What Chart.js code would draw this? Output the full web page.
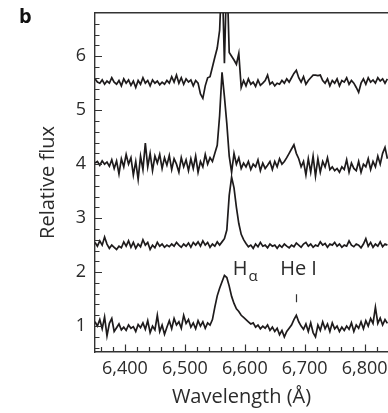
<!DOCTYPE html>
<html>
<head>
<meta charset="utf-8">
<script src="https://cdn.jsdelivr.net/npm/chart.js@4.4.0/dist/chart.umd.min.js"></script>
<style>
  html, body { margin: 0; padding: 0; background: #fff; }
</style>
</head>
<body>
<canvas id="grafico" width="388" height="413"></canvas>
<script>
// Longitudes de onda (Å)
const longitudes = [
  6350, 6354, 6358, 6362, 6366, 6370, 6374, 6378, 6382, 6386,
  6390, 6394, 6398, 6402, 6406, 6410, 6414, 6418, 6422, 6426,
  6430, 6434, 6438, 6442, 6446, 6450, 6454, 6458, 6462, 6466,
  6470, 6474, 6478, 6482, 6486, 6490, 6494, 6498, 6502, 6506,
  6510, 6514, 6518, 6522, 6526, 6530, 6534, 6538, 6542, 6546,
  6550, 6554, 6558, 6562, 6566, 6570, 6574, 6578, 6582, 6586,
  6590, 6594, 6598, 6602, 6606, 6610, 6614, 6618, 6622, 6626,
  6630, 6634, 6638, 6642, 6646, 6650, 6654, 6658, 6662, 6666,
  6670, 6674, 6678, 6682, 6686, 6690, 6694, 6698, 6702, 6706,
  6710, 6714, 6718, 6722, 6726, 6730, 6734, 6738, 6742, 6746,
  6750, 6754, 6758, 6762, 6766, 6770, 6774, 6778, 6782, 6786,
  6790, 6794, 6798, 6802, 6806, 6810, 6814, 6818, 6822, 6826,
  6830, 6834, 6838
];

// Espectro inferior
const flujoA = [
  1.08, 1.00, 1.12, 0.95, 1.17, 0.82, 1.05, 1.14, 0.90, 0.97,
  1.04, 0.93, 0.98, 0.92, 1.02, 0.96, 0.99, 0.90, 1.03, 0.97,
  1.06, 0.94, 1.10, 0.88, 1.00, 0.93, 1.20, 0.90, 1.02, 0.85,
  0.98, 1.10, 0.95, 1.14, 1.02, 1.08, 0.96, 1.20, 1.05, 1.12,
  0.98, 1.06, 0.95, 1.10, 1.00, 1.08, 0.96, 1.06, 1.02, 1.12,
  1.35, 1.56, 1.70, 1.82, 1.94, 1.90, 1.74, 1.55, 1.42, 1.32,
  1.27, 1.20, 1.16, 1.12, 1.08, 1.04, 1.06, 0.98, 1.02, 0.95,
  1.00, 0.96, 1.02, 0.92, 0.98, 0.90, 0.96, 0.84, 0.92, 0.80,
  0.90, 0.96, 1.02, 1.12, 1.20, 1.08, 1.00, 0.94, 1.04, 0.90,
  1.06, 0.88, 0.80, 1.02, 0.92, 1.08, 0.95, 1.04, 0.90, 1.06,
  0.95, 1.00, 0.90, 0.98, 0.92, 1.00, 0.94, 1.06, 0.90, 1.02,
  0.96, 1.08, 0.95, 1.10, 1.00, 1.14, 1.05, 1.35, 1.05, 1.15,
  1.02, 1.12, 1.05
];

// Segundo espectro
const flujoB = [
  2.55, 2.48, 2.58, 2.50, 2.65, 2.52, 2.44, 2.50, 2.46, 2.42,
  2.48, 2.45, 2.56, 2.48, 2.58, 2.46, 2.55, 2.44, 2.52, 2.47,
  2.60, 2.50, 2.55, 2.42, 2.50, 2.45, 2.55, 2.48, 2.52, 2.46,
  2.50, 2.47, 2.52, 2.48, 2.55, 2.50, 2.46, 2.52, 2.48, 2.54,
  2.46, 2.55, 2.50, 2.56, 2.48, 2.58, 2.50, 2.55, 2.46, 2.52,
  2.48, 2.56, 2.50, 2.56, 2.62, 2.78, 3.42, 3.76, 3.56, 3.20,
  2.90, 2.70, 2.60, 2.53, 2.47, 2.50, 2.44, 2.52, 2.47, 2.55,
  2.48, 2.50, 2.45, 2.52, 2.48, 2.50, 2.44, 2.50, 2.46, 2.52,
  2.48, 2.45, 2.50, 2.47, 2.54, 2.50, 2.46, 2.52, 2.55, 2.48,
  2.52, 2.46, 2.50, 2.48, 2.56, 2.50, 2.53, 2.46, 2.52, 2.50,
  2.55, 2.48, 2.52, 2.46, 2.50, 2.48, 2.58, 2.50, 2.47, 2.52,
  2.50, 2.45, 2.52, 2.62, 2.48, 2.55, 2.46, 2.52, 2.48, 2.56,
  2.47, 2.52, 2.50
];

// Tercer espectro
const flujoC = [
  4.02, 4.05, 3.98, 4.06, 4.00, 4.04, 3.96, 4.08, 3.92, 4.06,
  3.82, 4.10, 3.95, 4.18, 4.00, 4.12, 3.80, 4.05, 3.72, 4.15,
  3.90, 4.39, 3.95, 4.20, 3.88, 4.15, 4.02, 4.18, 3.92, 4.12,
  3.98, 4.16, 3.90, 4.10, 4.00, 3.85, 4.12, 3.95, 4.08, 3.88,
  4.10, 3.92, 4.15, 3.85, 4.05, 3.95, 4.18, 4.00, 4.12, 4.05,
  4.20, 4.35, 4.90, 5.70, 5.25, 4.75, 4.15, 3.85, 4.20, 4.00,
  4.12, 3.92, 4.02, 3.95, 4.05, 3.90, 4.00, 3.95, 4.08, 3.88,
  4.02, 3.92, 3.98, 4.05, 3.90, 4.05, 3.95, 4.10, 4.00, 4.05,
  4.12, 4.20, 4.28, 4.36, 4.20, 4.10, 3.95, 4.05, 3.80, 4.10,
  3.85, 4.15, 3.78, 4.10, 3.85, 4.05, 3.95, 4.12, 3.90, 3.95,
  3.88, 3.92, 3.85, 3.95, 3.90, 4.08, 3.85, 4.02, 3.92, 3.88,
  4.05, 3.85, 4.00, 3.95, 4.10, 3.90, 4.05, 3.95, 4.15, 4.00,
  4.20, 4.31, 4.10
];

// Espectro superior (Hα se sale del gráfico)
const flujoD = [
  5.58, 5.52, 5.50, 5.56, 5.48, 5.54, 5.50, 5.60, 5.52, 5.48,
  5.55, 5.45, 5.58, 5.50, 5.56, 5.46, 5.54, 5.42, 5.55, 5.48,
  5.60, 5.50, 5.55, 5.45, 5.56, 5.50, 5.54, 5.47, 5.52, 5.48,
  5.55, 5.50, 5.62, 5.52, 5.65, 5.50, 5.60, 5.48, 5.58, 5.52,
  5.56, 5.45, 5.55, 5.50, 5.30, 5.22, 5.45, 5.60, 5.62, 5.80,
  5.98, 6.15, 6.48, 7.60, 5.87, 7.60, 6.07, 6.00, 5.93, 5.85,
  6.05, 5.42, 5.55, 5.45, 5.58, 5.48, 5.52, 5.44, 5.56, 5.46,
  5.50, 5.55, 5.65, 5.48, 5.52, 5.45, 5.50, 5.48, 5.55, 5.50,
  5.58, 5.52, 5.60, 5.68, 5.74, 5.60, 5.52, 5.62, 5.48, 5.55,
  5.60, 5.65, 5.65, 5.64, 5.65, 5.55, 5.50, 5.58, 5.45, 5.55,
  5.50, 5.58, 5.45, 5.55, 5.52, 5.60, 5.48, 5.55, 5.50, 5.42,
  5.33, 5.50, 5.58, 5.48, 5.60, 5.52, 5.56, 5.50, 5.60, 5.54,
  5.58, 5.50, 5.58
];

const ticksX = [6400, 6500, 6600, 6700, 6800];
const etiquetasX = ["6,400", "6,500", "6,600", "6,700", "6,800"];
const ticksY = [1, 2, 3, 4, 5, 6];
const etiquetasY = ["1", "2", "3", "4", "5", "6"];

const colorTexto = "#2b2b2b";
const colorEje = "#333333";
const colorLinea = "#1e1b1c";
const fuente = "'Open Sans', sans-serif";

Chart.defaults.font.family = fuente;

function serie(valores) {
  return valores.map((v, i) => ({ x: longitudes[i], y: v }));
}

// Marcas de los ejes hacia dentro y textos del panel
const marcas = {
  id: "marcas",
  afterDraw(chart) {
    const { ctx, chartArea, scales } = chart;
    ctx.save();
    ctx.strokeStyle = colorEje;
    ctx.lineWidth = 1.2;
    ctx.beginPath();
    for (let k = 3; k < 34; k++) {
      const y = Math.round(scales.y.getPixelForValue(k / 5)) + 0.5;
      const largo = k % 5 === 0 ? 7 : 4.5;
      ctx.moveTo(chartArea.left, y);
      ctx.lineTo(chartArea.left + largo, y);
    }
    for (let v = 6360; v < 6840; v += 20) {
      const x = Math.round(scales.x.getPixelForValue(v)) + 0.5;
      const largo = v % 100 === 0 ? 7.5 : 5;
      ctx.moveTo(x, chartArea.bottom);
      ctx.lineTo(x, chartArea.bottom - largo);
    }
    // marca de He I
    const xHe = Math.round(scales.x.getPixelForValue(6686)) + 0.5;
    ctx.moveTo(xHe, scales.y.getPixelForValue(1.59));
    ctx.lineTo(xHe, scales.y.getPixelForValue(1.44));
    ctx.stroke();

    ctx.fillStyle = "#111";
    ctx.textBaseline = "alphabetic";
    ctx.font = "bold 20px " + fuente;
    ctx.fillText("b", 19, 23);

    ctx.fillStyle = colorTexto;
    const yTexto = scales.y.getPixelForValue(1.94);
    ctx.font = "20px " + fuente;
    const xH = scales.x.getPixelForValue(6580);
    ctx.fillText("H", xH, yTexto);
    const anchoH = ctx.measureText("H").width;
    ctx.font = "15px " + fuente;
    ctx.fillText("α", xH + anchoH + 1, yTexto + 6);
    ctx.font = "20px " + fuente;
    ctx.fillText("He I", scales.x.getPixelForValue(6659), yTexto);
    ctx.restore();
  }
};

new Chart(document.getElementById("grafico"), {
  type: "line",
  data: {
    datasets: [flujoA, flujoB, flujoC, flujoD].map((valores) => ({
      data: serie(valores),
      borderColor: colorLinea,
      borderWidth: 1.7,
      pointRadius: 0,
      tension: 0,
      fill: false
    }))
  },
  options: {
    responsive: false,
    animation: false,
    events: [],
    layout: { padding: { top: 13, right: 0, bottom: 0, left: 0 } },
    plugins: { legend: { display: false }, tooltip: { enabled: false } },
    scales: {
      x: {
        type: "linear",
        position: "bottom",
        min: 6350,
        max: 6839,
        afterBuildTicks: (s) => { s.ticks = ticksX.map((v) => ({ value: v })); },
        afterFit: (s) => { s.height = 61; s.paddingLeft = 0; s.paddingRight = 0; },
        ticks: {
          callback: (v, i) => etiquetasX[i],
          color: colorTexto,
          font: { size: 18 },
          padding: 6,
          maxRotation: 0,
          autoSkip: false
        },
        grid: { drawOnChartArea: false, drawTicks: false },
        border: { color: colorEje, width: 1.4 },
        title: {
          display: true,
          text: "Wavelength (Å)",
          color: colorTexto,
          font: { size: 20 },
          padding: { top: 0, bottom: 4 }
        }
      },
      arriba: {
        type: "linear",
        position: "top",
        min: 6350,
        max: 6839,
        ticks: { display: false },
        grid: { drawOnChartArea: false, drawTicks: false },
        border: { color: colorEje, width: 1.4 },
        afterFit: (s) => { s.height = 0; }
      },
      y: {
        type: "linear",
        min: 0.52,
        max: 6.8,
        afterBuildTicks: (s) => { s.ticks = ticksY.map((v) => ({ value: v })); },
        afterFit: (s) => { s.width = 95; s.paddingTop = 0; s.paddingBottom = 0; },
        ticks: {
          callback: (v, i) => etiquetasY[i],
          color: colorTexto,
          font: { size: 18 },
          padding: 9
        },
        grid: { drawOnChartArea: false, drawTicks: false },
        border: { color: colorEje, width: 1.4 },
        title: {
          display: true,
          text: "Relative flux",
          color: colorTexto,
          font: { size: 20 },
          padding: { top: 36, bottom: 0 }
        }
      }
    }
  },
  plugins: [marcas]
});
</script>
</body>
</html>
